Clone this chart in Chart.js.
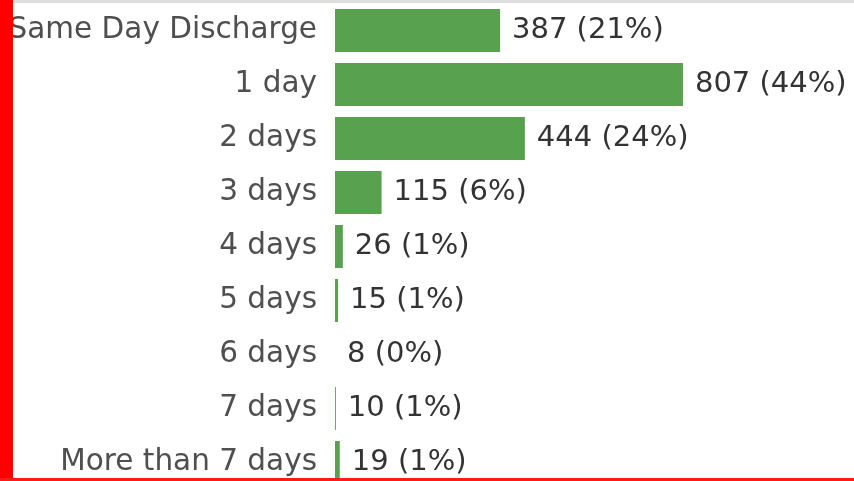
<!DOCTYPE html>
<html>
<head>
<meta charset="utf-8">
<script src="https://cdn.jsdelivr.net/npm/chart.js@4/dist/chart.umd.min.js"></script>
<style>
  html, body { margin: 0; padding: 0; background: #fff; overflow: hidden; width: 854px; height: 481px; }
  #wrap { position: absolute; left: 0; top: 0; width: 854px; height: 492px; }
  #leftBar { position: absolute; left: 0; top: 0; width: 13px; height: 481px; background: #ff0000; }
  #bottomBar { position: absolute; left: 0; top: 478px; width: 854px; height: 3px; background: #ff1a1a; }
  #topLine { position: absolute; left: 0; top: 0; width: 854px; height: 3px; background: #dedede; }
</style>
</head>
<body>
<div id="wrap"><canvas id="c" width="854" height="492"></canvas></div>
<div id="topLine"></div>
<div id="leftBar"></div>
<div id="bottomBar"></div>
<script>
const categories = ["Same Day Discharge", "1 day", "2 days", "3 days", "4 days", "5 days", "6 days", "7 days", "More than 7 days"];
const counts = [387, 807, 444, 115, 26, 15, 8, 10, 19];
const percents = ["21%", "44%", "24%", "6%", "1%", "1%", "0%", "1%", "1%"];

const FONT = "'DejaVu Sans', sans-serif";

const valueLabels = {
  id: 'valueLabels',
  afterDatasetsDraw(chart) {
    const ctx = chart.ctx;
    const meta = chart.getDatasetMeta(0);
    ctx.save();
    ctx.font = "29px " + FONT;
    ctx.fillStyle = "#333333";
    ctx.textAlign = "left";
    ctx.textBaseline = "middle";
    meta.data.forEach((bar, i) => {
      const x = Math.max(bar.x, chart.chartArea.left) + 12;
      ctx.fillText(counts[i] + " (" + percents[i] + ")", x, bar.y);
    });
    ctx.restore();
  }
};

new Chart(document.getElementById('c'), {
  type: 'bar',
  data: {
    labels: categories,
    datasets: [{
      data: counts,
      backgroundColor: '#58a14e',
      borderWidth: 0,
      categoryPercentage: 1,
      barPercentage: 0.8
    }]
  },
  options: {
    indexAxis: 'y',
    responsive: false,
    animation: false,
    events: [],
    layout: { padding: { left: 0, right: 87, top: 3.5, bottom: 2.5 } },
    plugins: { legend: { display: false }, tooltip: { enabled: false } },
    scales: {
      x: {
        display: false,
        min: 8,
        max: 1000
      },
      y: {
        grid: { display: false, drawTicks: false },
        border: { display: false },
        ticks: {
          font: { family: FONT, size: 29.5 },
          color: '#4f4f4f',
          padding: 18
        },
        afterFit(scale) {
          scale.width = 335;
          scale.paddingTop = 0;
          scale.paddingBottom = 0;
          scale.paddingLeft = 0;
          scale.paddingRight = 0;
        }
      }
    }
  },
  plugins: [valueLabels]
});
</script>
</body>
</html>
